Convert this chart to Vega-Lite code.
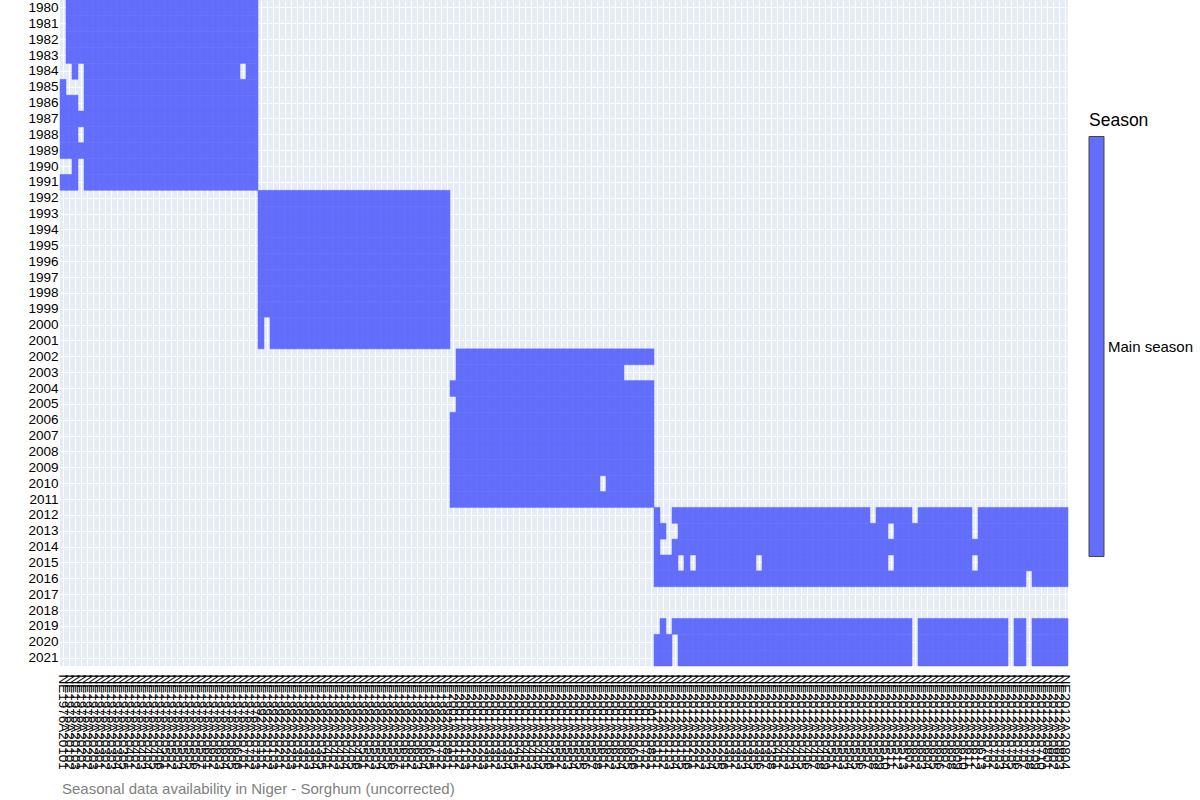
{
"$schema": "https://vega.github.io/schema/vega-lite/v6.json",
"width": 1008, "height": 666,
"autosize": {"type": "none"},
"padding": {"left": 60, "top": 0, "right": 132, "bottom": 134},
"background": "white",
"title": {"text": "Seasonal data availability in Niger - Sorghum (uncorrected)", "orient": "bottom", "anchor": "start", "frame": "group", "offset": 13, "dx": 2, "fontSize": 15, "fontWeight": "normal", "color": "#7f7f7f", "font": "Liberation Sans"},
"data": {"values": [
{"id":"NE1976A20102","year":1980},{"id":"NE1976A20103","year":1980},{"id":"NE1976A20201","year":1980},{"id":"NE1976A20202","year":1980},{"id":"NE1976A20203","year":1980},{"id":"NE1976A20301","year":1980},{"id":"NE1976A20302","year":1980},{"id":"NE1976A20303","year":1980},{"id":"NE1976A20304","year":1980},{"id":"NE1976A20305","year":1980},{"id":"NE1976A20401","year":1980},{"id":"NE1976A20402","year":1980},{"id":"NE1976A20403","year":1980},{"id":"NE1976A20404","year":1980},{"id":"NE1976A20405","year":1980},{"id":"NE1976A20406","year":1980},{"id":"NE1976A20501","year":1980},{"id":"NE1976A20502","year":1980},{"id":"NE1976A20503","year":1980},{"id":"NE1976A20504","year":1980},{"id":"NE1976A20505","year":1980},{"id":"NE1976A20506","year":1980},{"id":"NE1976A20507","year":1980},{"id":"NE1976A20601","year":1980},{"id":"NE1976A20602","year":1980},{"id":"NE1976A20603","year":1980},{"id":"NE1976A20604","year":1980},{"id":"NE1976A20605","year":1980},{"id":"NE1976A20606","year":1980},{"id":"NE1976A20701","year":1980},{"id":"NE1976A20702","year":1980},{"id":"NE1976A20703","year":1980},
{"id":"NE1976A20102","year":1981},{"id":"NE1976A20103","year":1981},{"id":"NE1976A20201","year":1981},{"id":"NE1976A20202","year":1981},{"id":"NE1976A20203","year":1981},{"id":"NE1976A20301","year":1981},{"id":"NE1976A20302","year":1981},{"id":"NE1976A20303","year":1981},{"id":"NE1976A20304","year":1981},{"id":"NE1976A20305","year":1981},{"id":"NE1976A20401","year":1981},{"id":"NE1976A20402","year":1981},{"id":"NE1976A20403","year":1981},{"id":"NE1976A20404","year":1981},{"id":"NE1976A20405","year":1981},{"id":"NE1976A20406","year":1981},{"id":"NE1976A20501","year":1981},{"id":"NE1976A20502","year":1981},{"id":"NE1976A20503","year":1981},{"id":"NE1976A20504","year":1981},{"id":"NE1976A20505","year":1981},{"id":"NE1976A20506","year":1981},{"id":"NE1976A20507","year":1981},{"id":"NE1976A20601","year":1981},{"id":"NE1976A20602","year":1981},{"id":"NE1976A20603","year":1981},{"id":"NE1976A20604","year":1981},{"id":"NE1976A20605","year":1981},{"id":"NE1976A20606","year":1981},{"id":"NE1976A20701","year":1981},{"id":"NE1976A20702","year":1981},{"id":"NE1976A20703","year":1981},
{"id":"NE1976A20102","year":1982},{"id":"NE1976A20103","year":1982},{"id":"NE1976A20201","year":1982},{"id":"NE1976A20202","year":1982},{"id":"NE1976A20203","year":1982},{"id":"NE1976A20301","year":1982},{"id":"NE1976A20302","year":1982},{"id":"NE1976A20303","year":1982},{"id":"NE1976A20304","year":1982},{"id":"NE1976A20305","year":1982},{"id":"NE1976A20401","year":1982},{"id":"NE1976A20402","year":1982},{"id":"NE1976A20403","year":1982},{"id":"NE1976A20404","year":1982},{"id":"NE1976A20405","year":1982},{"id":"NE1976A20406","year":1982},{"id":"NE1976A20501","year":1982},{"id":"NE1976A20502","year":1982},{"id":"NE1976A20503","year":1982},{"id":"NE1976A20504","year":1982},{"id":"NE1976A20505","year":1982},{"id":"NE1976A20506","year":1982},{"id":"NE1976A20507","year":1982},{"id":"NE1976A20601","year":1982},{"id":"NE1976A20602","year":1982},{"id":"NE1976A20603","year":1982},{"id":"NE1976A20604","year":1982},{"id":"NE1976A20605","year":1982},{"id":"NE1976A20606","year":1982},{"id":"NE1976A20701","year":1982},{"id":"NE1976A20702","year":1982},{"id":"NE1976A20703","year":1982},
{"id":"NE1976A20102","year":1983},{"id":"NE1976A20103","year":1983},{"id":"NE1976A20201","year":1983},{"id":"NE1976A20202","year":1983},{"id":"NE1976A20203","year":1983},{"id":"NE1976A20301","year":1983},{"id":"NE1976A20302","year":1983},{"id":"NE1976A20303","year":1983},{"id":"NE1976A20304","year":1983},{"id":"NE1976A20305","year":1983},{"id":"NE1976A20401","year":1983},{"id":"NE1976A20402","year":1983},{"id":"NE1976A20403","year":1983},{"id":"NE1976A20404","year":1983},{"id":"NE1976A20405","year":1983},{"id":"NE1976A20406","year":1983},{"id":"NE1976A20501","year":1983},{"id":"NE1976A20502","year":1983},{"id":"NE1976A20503","year":1983},{"id":"NE1976A20504","year":1983},{"id":"NE1976A20505","year":1983},{"id":"NE1976A20506","year":1983},{"id":"NE1976A20507","year":1983},{"id":"NE1976A20601","year":1983},{"id":"NE1976A20602","year":1983},{"id":"NE1976A20603","year":1983},{"id":"NE1976A20604","year":1983},{"id":"NE1976A20605","year":1983},{"id":"NE1976A20606","year":1983},{"id":"NE1976A20701","year":1983},{"id":"NE1976A20702","year":1983},{"id":"NE1976A20703","year":1983},
{"id":"NE1976A20103","year":1984},{"id":"NE1976A20202","year":1984},{"id":"NE1976A20203","year":1984},{"id":"NE1976A20301","year":1984},{"id":"NE1976A20302","year":1984},{"id":"NE1976A20303","year":1984},{"id":"NE1976A20304","year":1984},{"id":"NE1976A20305","year":1984},{"id":"NE1976A20401","year":1984},{"id":"NE1976A20402","year":1984},{"id":"NE1976A20403","year":1984},{"id":"NE1976A20404","year":1984},{"id":"NE1976A20405","year":1984},{"id":"NE1976A20406","year":1984},{"id":"NE1976A20501","year":1984},{"id":"NE1976A20502","year":1984},{"id":"NE1976A20503","year":1984},{"id":"NE1976A20504","year":1984},{"id":"NE1976A20505","year":1984},{"id":"NE1976A20506","year":1984},{"id":"NE1976A20507","year":1984},{"id":"NE1976A20601","year":1984},{"id":"NE1976A20602","year":1984},{"id":"NE1976A20603","year":1984},{"id":"NE1976A20604","year":1984},{"id":"NE1976A20605","year":1984},{"id":"NE1976A20606","year":1984},{"id":"NE1976A20702","year":1984},{"id":"NE1976A20703","year":1984},
{"id":"NE1976A20101","year":1985},{"id":"NE1976A20202","year":1985},{"id":"NE1976A20203","year":1985},{"id":"NE1976A20301","year":1985},{"id":"NE1976A20302","year":1985},{"id":"NE1976A20303","year":1985},{"id":"NE1976A20304","year":1985},{"id":"NE1976A20305","year":1985},{"id":"NE1976A20401","year":1985},{"id":"NE1976A20402","year":1985},{"id":"NE1976A20403","year":1985},{"id":"NE1976A20404","year":1985},{"id":"NE1976A20405","year":1985},{"id":"NE1976A20406","year":1985},{"id":"NE1976A20501","year":1985},{"id":"NE1976A20502","year":1985},{"id":"NE1976A20503","year":1985},{"id":"NE1976A20504","year":1985},{"id":"NE1976A20505","year":1985},{"id":"NE1976A20506","year":1985},{"id":"NE1976A20507","year":1985},{"id":"NE1976A20601","year":1985},{"id":"NE1976A20602","year":1985},{"id":"NE1976A20603","year":1985},{"id":"NE1976A20604","year":1985},{"id":"NE1976A20605","year":1985},{"id":"NE1976A20606","year":1985},{"id":"NE1976A20701","year":1985},{"id":"NE1976A20702","year":1985},{"id":"NE1976A20703","year":1985},
{"id":"NE1976A20101","year":1986},{"id":"NE1976A20102","year":1986},{"id":"NE1976A20103","year":1986},{"id":"NE1976A20202","year":1986},{"id":"NE1976A20203","year":1986},{"id":"NE1976A20301","year":1986},{"id":"NE1976A20302","year":1986},{"id":"NE1976A20303","year":1986},{"id":"NE1976A20304","year":1986},{"id":"NE1976A20305","year":1986},{"id":"NE1976A20401","year":1986},{"id":"NE1976A20402","year":1986},{"id":"NE1976A20403","year":1986},{"id":"NE1976A20404","year":1986},{"id":"NE1976A20405","year":1986},{"id":"NE1976A20406","year":1986},{"id":"NE1976A20501","year":1986},{"id":"NE1976A20502","year":1986},{"id":"NE1976A20503","year":1986},{"id":"NE1976A20504","year":1986},{"id":"NE1976A20505","year":1986},{"id":"NE1976A20506","year":1986},{"id":"NE1976A20507","year":1986},{"id":"NE1976A20601","year":1986},{"id":"NE1976A20602","year":1986},{"id":"NE1976A20603","year":1986},{"id":"NE1976A20604","year":1986},{"id":"NE1976A20605","year":1986},{"id":"NE1976A20606","year":1986},{"id":"NE1976A20701","year":1986},{"id":"NE1976A20702","year":1986},{"id":"NE1976A20703","year":1986},
{"id":"NE1976A20101","year":1987},{"id":"NE1976A20102","year":1987},{"id":"NE1976A20103","year":1987},{"id":"NE1976A20201","year":1987},{"id":"NE1976A20202","year":1987},{"id":"NE1976A20203","year":1987},{"id":"NE1976A20301","year":1987},{"id":"NE1976A20302","year":1987},{"id":"NE1976A20303","year":1987},{"id":"NE1976A20304","year":1987},{"id":"NE1976A20305","year":1987},{"id":"NE1976A20401","year":1987},{"id":"NE1976A20402","year":1987},{"id":"NE1976A20403","year":1987},{"id":"NE1976A20404","year":1987},{"id":"NE1976A20405","year":1987},{"id":"NE1976A20406","year":1987},{"id":"NE1976A20501","year":1987},{"id":"NE1976A20502","year":1987},{"id":"NE1976A20503","year":1987},{"id":"NE1976A20504","year":1987},{"id":"NE1976A20505","year":1987},{"id":"NE1976A20506","year":1987},{"id":"NE1976A20507","year":1987},{"id":"NE1976A20601","year":1987},{"id":"NE1976A20602","year":1987},{"id":"NE1976A20603","year":1987},{"id":"NE1976A20604","year":1987},{"id":"NE1976A20605","year":1987},{"id":"NE1976A20606","year":1987},{"id":"NE1976A20701","year":1987},{"id":"NE1976A20702","year":1987},{"id":"NE1976A20703","year":1987},
{"id":"NE1976A20101","year":1988},{"id":"NE1976A20102","year":1988},{"id":"NE1976A20103","year":1988},{"id":"NE1976A20202","year":1988},{"id":"NE1976A20203","year":1988},{"id":"NE1976A20301","year":1988},{"id":"NE1976A20302","year":1988},{"id":"NE1976A20303","year":1988},{"id":"NE1976A20304","year":1988},{"id":"NE1976A20305","year":1988},{"id":"NE1976A20401","year":1988},{"id":"NE1976A20402","year":1988},{"id":"NE1976A20403","year":1988},{"id":"NE1976A20404","year":1988},{"id":"NE1976A20405","year":1988},{"id":"NE1976A20406","year":1988},{"id":"NE1976A20501","year":1988},{"id":"NE1976A20502","year":1988},{"id":"NE1976A20503","year":1988},{"id":"NE1976A20504","year":1988},{"id":"NE1976A20505","year":1988},{"id":"NE1976A20506","year":1988},{"id":"NE1976A20507","year":1988},{"id":"NE1976A20601","year":1988},{"id":"NE1976A20602","year":1988},{"id":"NE1976A20603","year":1988},{"id":"NE1976A20604","year":1988},{"id":"NE1976A20605","year":1988},{"id":"NE1976A20606","year":1988},{"id":"NE1976A20701","year":1988},{"id":"NE1976A20702","year":1988},{"id":"NE1976A20703","year":1988},
{"id":"NE1976A20101","year":1989},{"id":"NE1976A20102","year":1989},{"id":"NE1976A20103","year":1989},{"id":"NE1976A20201","year":1989},{"id":"NE1976A20202","year":1989},{"id":"NE1976A20203","year":1989},{"id":"NE1976A20301","year":1989},{"id":"NE1976A20302","year":1989},{"id":"NE1976A20303","year":1989},{"id":"NE1976A20304","year":1989},{"id":"NE1976A20305","year":1989},{"id":"NE1976A20401","year":1989},{"id":"NE1976A20402","year":1989},{"id":"NE1976A20403","year":1989},{"id":"NE1976A20404","year":1989},{"id":"NE1976A20405","year":1989},{"id":"NE1976A20406","year":1989},{"id":"NE1976A20501","year":1989},{"id":"NE1976A20502","year":1989},{"id":"NE1976A20503","year":1989},{"id":"NE1976A20504","year":1989},{"id":"NE1976A20505","year":1989},{"id":"NE1976A20506","year":1989},{"id":"NE1976A20507","year":1989},{"id":"NE1976A20601","year":1989},{"id":"NE1976A20602","year":1989},{"id":"NE1976A20603","year":1989},{"id":"NE1976A20604","year":1989},{"id":"NE1976A20605","year":1989},{"id":"NE1976A20606","year":1989},{"id":"NE1976A20701","year":1989},{"id":"NE1976A20702","year":1989},{"id":"NE1976A20703","year":1989},
{"id":"NE1976A20103","year":1990},{"id":"NE1976A20202","year":1990},{"id":"NE1976A20203","year":1990},{"id":"NE1976A20301","year":1990},{"id":"NE1976A20302","year":1990},{"id":"NE1976A20303","year":1990},{"id":"NE1976A20304","year":1990},{"id":"NE1976A20305","year":1990},{"id":"NE1976A20401","year":1990},{"id":"NE1976A20402","year":1990},{"id":"NE1976A20403","year":1990},{"id":"NE1976A20404","year":1990},{"id":"NE1976A20405","year":1990},{"id":"NE1976A20406","year":1990},{"id":"NE1976A20501","year":1990},{"id":"NE1976A20502","year":1990},{"id":"NE1976A20503","year":1990},{"id":"NE1976A20504","year":1990},{"id":"NE1976A20505","year":1990},{"id":"NE1976A20506","year":1990},{"id":"NE1976A20507","year":1990},{"id":"NE1976A20601","year":1990},{"id":"NE1976A20602","year":1990},{"id":"NE1976A20603","year":1990},{"id":"NE1976A20604","year":1990},{"id":"NE1976A20605","year":1990},{"id":"NE1976A20606","year":1990},{"id":"NE1976A20701","year":1990},{"id":"NE1976A20702","year":1990},{"id":"NE1976A20703","year":1990},
{"id":"NE1976A20101","year":1991},{"id":"NE1976A20102","year":1991},{"id":"NE1976A20103","year":1991},{"id":"NE1976A20202","year":1991},{"id":"NE1976A20203","year":1991},{"id":"NE1976A20301","year":1991},{"id":"NE1976A20302","year":1991},{"id":"NE1976A20303","year":1991},{"id":"NE1976A20304","year":1991},{"id":"NE1976A20305","year":1991},{"id":"NE1976A20401","year":1991},{"id":"NE1976A20402","year":1991},{"id":"NE1976A20403","year":1991},{"id":"NE1976A20404","year":1991},{"id":"NE1976A20405","year":1991},{"id":"NE1976A20406","year":1991},{"id":"NE1976A20501","year":1991},{"id":"NE1976A20502","year":1991},{"id":"NE1976A20503","year":1991},{"id":"NE1976A20504","year":1991},{"id":"NE1976A20505","year":1991},{"id":"NE1976A20506","year":1991},{"id":"NE1976A20507","year":1991},{"id":"NE1976A20601","year":1991},{"id":"NE1976A20602","year":1991},{"id":"NE1976A20603","year":1991},{"id":"NE1976A20604","year":1991},{"id":"NE1976A20605","year":1991},{"id":"NE1976A20606","year":1991},{"id":"NE1976A20701","year":1991},{"id":"NE1976A20702","year":1991},{"id":"NE1976A20703","year":1991},
{"id":"NE1992A20101","year":1992},{"id":"NE1992A20102","year":1992},{"id":"NE1992A20103","year":1992},{"id":"NE1992A20201","year":1992},{"id":"NE1992A20202","year":1992},{"id":"NE1992A20203","year":1992},{"id":"NE1992A20301","year":1992},{"id":"NE1992A20302","year":1992},{"id":"NE1992A20303","year":1992},{"id":"NE1992A20304","year":1992},{"id":"NE1992A20305","year":1992},{"id":"NE1992A20401","year":1992},{"id":"NE1992A20402","year":1992},{"id":"NE1992A20403","year":1992},{"id":"NE1992A20404","year":1992},{"id":"NE1992A20405","year":1992},{"id":"NE1992A20406","year":1992},{"id":"NE1992A20501","year":1992},{"id":"NE1992A20502","year":1992},{"id":"NE1992A20503","year":1992},{"id":"NE1992A20504","year":1992},{"id":"NE1992A20505","year":1992},{"id":"NE1992A20506","year":1992},{"id":"NE1992A20507","year":1992},{"id":"NE1992A20601","year":1992},{"id":"NE1992A20602","year":1992},{"id":"NE1992A20603","year":1992},{"id":"NE1992A20604","year":1992},{"id":"NE1992A20605","year":1992},{"id":"NE1992A20701","year":1992},{"id":"NE1992A20702","year":1992},{"id":"NE1992A20801","year":1992},
{"id":"NE1992A20101","year":1993},{"id":"NE1992A20102","year":1993},{"id":"NE1992A20103","year":1993},{"id":"NE1992A20201","year":1993},{"id":"NE1992A20202","year":1993},{"id":"NE1992A20203","year":1993},{"id":"NE1992A20301","year":1993},{"id":"NE1992A20302","year":1993},{"id":"NE1992A20303","year":1993},{"id":"NE1992A20304","year":1993},{"id":"NE1992A20305","year":1993},{"id":"NE1992A20401","year":1993},{"id":"NE1992A20402","year":1993},{"id":"NE1992A20403","year":1993},{"id":"NE1992A20404","year":1993},{"id":"NE1992A20405","year":1993},{"id":"NE1992A20406","year":1993},{"id":"NE1992A20501","year":1993},{"id":"NE1992A20502","year":1993},{"id":"NE1992A20503","year":1993},{"id":"NE1992A20504","year":1993},{"id":"NE1992A20505","year":1993},{"id":"NE1992A20506","year":1993},{"id":"NE1992A20507","year":1993},{"id":"NE1992A20601","year":1993},{"id":"NE1992A20602","year":1993},{"id":"NE1992A20603","year":1993},{"id":"NE1992A20604","year":1993},{"id":"NE1992A20605","year":1993},{"id":"NE1992A20701","year":1993},{"id":"NE1992A20702","year":1993},{"id":"NE1992A20801","year":1993},
{"id":"NE1992A20101","year":1994},{"id":"NE1992A20102","year":1994},{"id":"NE1992A20103","year":1994},{"id":"NE1992A20201","year":1994},{"id":"NE1992A20202","year":1994},{"id":"NE1992A20203","year":1994},{"id":"NE1992A20301","year":1994},{"id":"NE1992A20302","year":1994},{"id":"NE1992A20303","year":1994},{"id":"NE1992A20304","year":1994},{"id":"NE1992A20305","year":1994},{"id":"NE1992A20401","year":1994},{"id":"NE1992A20402","year":1994},{"id":"NE1992A20403","year":1994},{"id":"NE1992A20404","year":1994},{"id":"NE1992A20405","year":1994},{"id":"NE1992A20406","year":1994},{"id":"NE1992A20501","year":1994},{"id":"NE1992A20502","year":1994},{"id":"NE1992A20503","year":1994},{"id":"NE1992A20504","year":1994},{"id":"NE1992A20505","year":1994},{"id":"NE1992A20506","year":1994},{"id":"NE1992A20507","year":1994},{"id":"NE1992A20601","year":1994},{"id":"NE1992A20602","year":1994},{"id":"NE1992A20603","year":1994},{"id":"NE1992A20604","year":1994},{"id":"NE1992A20605","year":1994},{"id":"NE1992A20701","year":1994},{"id":"NE1992A20702","year":1994},{"id":"NE1992A20801","year":1994},
{"id":"NE1992A20101","year":1995},{"id":"NE1992A20102","year":1995},{"id":"NE1992A20103","year":1995},{"id":"NE1992A20201","year":1995},{"id":"NE1992A20202","year":1995},{"id":"NE1992A20203","year":1995},{"id":"NE1992A20301","year":1995},{"id":"NE1992A20302","year":1995},{"id":"NE1992A20303","year":1995},{"id":"NE1992A20304","year":1995},{"id":"NE1992A20305","year":1995},{"id":"NE1992A20401","year":1995},{"id":"NE1992A20402","year":1995},{"id":"NE1992A20403","year":1995},{"id":"NE1992A20404","year":1995},{"id":"NE1992A20405","year":1995},{"id":"NE1992A20406","year":1995},{"id":"NE1992A20501","year":1995},{"id":"NE1992A20502","year":1995},{"id":"NE1992A20503","year":1995},{"id":"NE1992A20504","year":1995},{"id":"NE1992A20505","year":1995},{"id":"NE1992A20506","year":1995},{"id":"NE1992A20507","year":1995},{"id":"NE1992A20601","year":1995},{"id":"NE1992A20602","year":1995},{"id":"NE1992A20603","year":1995},{"id":"NE1992A20604","year":1995},{"id":"NE1992A20605","year":1995},{"id":"NE1992A20701","year":1995},{"id":"NE1992A20702","year":1995},{"id":"NE1992A20801","year":1995},
{"id":"NE1992A20101","year":1996},{"id":"NE1992A20102","year":1996},{"id":"NE1992A20103","year":1996},{"id":"NE1992A20201","year":1996},{"id":"NE1992A20202","year":1996},{"id":"NE1992A20203","year":1996},{"id":"NE1992A20301","year":1996},{"id":"NE1992A20302","year":1996},{"id":"NE1992A20303","year":1996},{"id":"NE1992A20304","year":1996},{"id":"NE1992A20305","year":1996},{"id":"NE1992A20401","year":1996},{"id":"NE1992A20402","year":1996},{"id":"NE1992A20403","year":1996},{"id":"NE1992A20404","year":1996},{"id":"NE1992A20405","year":1996},{"id":"NE1992A20406","year":1996},{"id":"NE1992A20501","year":1996},{"id":"NE1992A20502","year":1996},{"id":"NE1992A20503","year":1996},{"id":"NE1992A20504","year":1996},{"id":"NE1992A20505","year":1996},{"id":"NE1992A20506","year":1996},{"id":"NE1992A20507","year":1996},{"id":"NE1992A20601","year":1996},{"id":"NE1992A20602","year":1996},{"id":"NE1992A20603","year":1996},{"id":"NE1992A20604","year":1996},{"id":"NE1992A20605","year":1996},{"id":"NE1992A20701","year":1996},{"id":"NE1992A20702","year":1996},{"id":"NE1992A20801","year":1996},
{"id":"NE1992A20101","year":1997},{"id":"NE1992A20102","year":1997},{"id":"NE1992A20103","year":1997},{"id":"NE1992A20201","year":1997},{"id":"NE1992A20202","year":1997},{"id":"NE1992A20203","year":1997},{"id":"NE1992A20301","year":1997},{"id":"NE1992A20302","year":1997},{"id":"NE1992A20303","year":1997},{"id":"NE1992A20304","year":1997},{"id":"NE1992A20305","year":1997},{"id":"NE1992A20401","year":1997},{"id":"NE1992A20402","year":1997},{"id":"NE1992A20403","year":1997},{"id":"NE1992A20404","year":1997},{"id":"NE1992A20405","year":1997},{"id":"NE1992A20406","year":1997},{"id":"NE1992A20501","year":1997},{"id":"NE1992A20502","year":1997},{"id":"NE1992A20503","year":1997},{"id":"NE1992A20504","year":1997},{"id":"NE1992A20505","year":1997},{"id":"NE1992A20506","year":1997},{"id":"NE1992A20507","year":1997},{"id":"NE1992A20601","year":1997},{"id":"NE1992A20602","year":1997},{"id":"NE1992A20603","year":1997},{"id":"NE1992A20604","year":1997},{"id":"NE1992A20605","year":1997},{"id":"NE1992A20701","year":1997},{"id":"NE1992A20702","year":1997},{"id":"NE1992A20801","year":1997},
{"id":"NE1992A20101","year":1998},{"id":"NE1992A20102","year":1998},{"id":"NE1992A20103","year":1998},{"id":"NE1992A20201","year":1998},{"id":"NE1992A20202","year":1998},{"id":"NE1992A20203","year":1998},{"id":"NE1992A20301","year":1998},{"id":"NE1992A20302","year":1998},{"id":"NE1992A20303","year":1998},{"id":"NE1992A20304","year":1998},{"id":"NE1992A20305","year":1998},{"id":"NE1992A20401","year":1998},{"id":"NE1992A20402","year":1998},{"id":"NE1992A20403","year":1998},{"id":"NE1992A20404","year":1998},{"id":"NE1992A20405","year":1998},{"id":"NE1992A20406","year":1998},{"id":"NE1992A20501","year":1998},{"id":"NE1992A20502","year":1998},{"id":"NE1992A20503","year":1998},{"id":"NE1992A20504","year":1998},{"id":"NE1992A20505","year":1998},{"id":"NE1992A20506","year":1998},{"id":"NE1992A20507","year":1998},{"id":"NE1992A20601","year":1998},{"id":"NE1992A20602","year":1998},{"id":"NE1992A20603","year":1998},{"id":"NE1992A20604","year":1998},{"id":"NE1992A20605","year":1998},{"id":"NE1992A20701","year":1998},{"id":"NE1992A20702","year":1998},{"id":"NE1992A20801","year":1998},
{"id":"NE1992A20101","year":1999},{"id":"NE1992A20102","year":1999},{"id":"NE1992A20103","year":1999},{"id":"NE1992A20201","year":1999},{"id":"NE1992A20202","year":1999},{"id":"NE1992A20203","year":1999},{"id":"NE1992A20301","year":1999},{"id":"NE1992A20302","year":1999},{"id":"NE1992A20303","year":1999},{"id":"NE1992A20304","year":1999},{"id":"NE1992A20305","year":1999},{"id":"NE1992A20401","year":1999},{"id":"NE1992A20402","year":1999},{"id":"NE1992A20403","year":1999},{"id":"NE1992A20404","year":1999},{"id":"NE1992A20405","year":1999},{"id":"NE1992A20406","year":1999},{"id":"NE1992A20501","year":1999},{"id":"NE1992A20502","year":1999},{"id":"NE1992A20503","year":1999},{"id":"NE1992A20504","year":1999},{"id":"NE1992A20505","year":1999},{"id":"NE1992A20506","year":1999},{"id":"NE1992A20507","year":1999},{"id":"NE1992A20601","year":1999},{"id":"NE1992A20602","year":1999},{"id":"NE1992A20603","year":1999},{"id":"NE1992A20604","year":1999},{"id":"NE1992A20605","year":1999},{"id":"NE1992A20701","year":1999},{"id":"NE1992A20702","year":1999},{"id":"NE1992A20801","year":1999},
{"id":"NE1992A20101","year":2000},{"id":"NE1992A20103","year":2000},{"id":"NE1992A20201","year":2000},{"id":"NE1992A20202","year":2000},{"id":"NE1992A20203","year":2000},{"id":"NE1992A20301","year":2000},{"id":"NE1992A20302","year":2000},{"id":"NE1992A20303","year":2000},{"id":"NE1992A20304","year":2000},{"id":"NE1992A20305","year":2000},{"id":"NE1992A20401","year":2000},{"id":"NE1992A20402","year":2000},{"id":"NE1992A20403","year":2000},{"id":"NE1992A20404","year":2000},{"id":"NE1992A20405","year":2000},{"id":"NE1992A20406","year":2000},{"id":"NE1992A20501","year":2000},{"id":"NE1992A20502","year":2000},{"id":"NE1992A20503","year":2000},{"id":"NE1992A20504","year":2000},{"id":"NE1992A20505","year":2000},{"id":"NE1992A20506","year":2000},{"id":"NE1992A20507","year":2000},{"id":"NE1992A20601","year":2000},{"id":"NE1992A20602","year":2000},{"id":"NE1992A20603","year":2000},{"id":"NE1992A20604","year":2000},{"id":"NE1992A20605","year":2000},{"id":"NE1992A20701","year":2000},{"id":"NE1992A20702","year":2000},{"id":"NE1992A20801","year":2000},
{"id":"NE1992A20101","year":2001},{"id":"NE1992A20103","year":2001},{"id":"NE1992A20201","year":2001},{"id":"NE1992A20202","year":2001},{"id":"NE1992A20203","year":2001},{"id":"NE1992A20301","year":2001},{"id":"NE1992A20302","year":2001},{"id":"NE1992A20303","year":2001},{"id":"NE1992A20304","year":2001},{"id":"NE1992A20305","year":2001},{"id":"NE1992A20401","year":2001},{"id":"NE1992A20402","year":2001},{"id":"NE1992A20403","year":2001},{"id":"NE1992A20404","year":2001},{"id":"NE1992A20405","year":2001},{"id":"NE1992A20406","year":2001},{"id":"NE1992A20501","year":2001},{"id":"NE1992A20502","year":2001},{"id":"NE1992A20503","year":2001},{"id":"NE1992A20504","year":2001},{"id":"NE1992A20505","year":2001},{"id":"NE1992A20506","year":2001},{"id":"NE1992A20507","year":2001},{"id":"NE1992A20601","year":2001},{"id":"NE1992A20602","year":2001},{"id":"NE1992A20603","year":2001},{"id":"NE1992A20604","year":2001},{"id":"NE1992A20605","year":2001},{"id":"NE1992A20701","year":2001},{"id":"NE1992A20702","year":2001},{"id":"NE1992A20801","year":2001},
{"id":"NE2001A20102","year":2002},{"id":"NE2001A20103","year":2002},{"id":"NE2001A20201","year":2002},{"id":"NE2001A20202","year":2002},{"id":"NE2001A20203","year":2002},{"id":"NE2001A20301","year":2002},{"id":"NE2001A20302","year":2002},{"id":"NE2001A20303","year":2002},{"id":"NE2001A20304","year":2002},{"id":"NE2001A20305","year":2002},{"id":"NE2001A20401","year":2002},{"id":"NE2001A20402","year":2002},{"id":"NE2001A20403","year":2002},{"id":"NE2001A20404","year":2002},{"id":"NE2001A20405","year":2002},{"id":"NE2001A20406","year":2002},{"id":"NE2001A20501","year":2002},{"id":"NE2001A20502","year":2002},{"id":"NE2001A20503","year":2002},{"id":"NE2001A20504","year":2002},{"id":"NE2001A20505","year":2002},{"id":"NE2001A20506","year":2002},{"id":"NE2001A20507","year":2002},{"id":"NE2001A20508","year":2002},{"id":"NE2001A20601","year":2002},{"id":"NE2001A20602","year":2002},{"id":"NE2001A20603","year":2002},{"id":"NE2001A20604","year":2002},{"id":"NE2001A20605","year":2002},{"id":"NE2001A20606","year":2002},{"id":"NE2001A20701","year":2002},{"id":"NE2001A20702","year":2002},{"id":"NE2001A20801","year":2002},
{"id":"NE2001A20102","year":2003},{"id":"NE2001A20103","year":2003},{"id":"NE2001A20201","year":2003},{"id":"NE2001A20202","year":2003},{"id":"NE2001A20203","year":2003},{"id":"NE2001A20301","year":2003},{"id":"NE2001A20302","year":2003},{"id":"NE2001A20303","year":2003},{"id":"NE2001A20304","year":2003},{"id":"NE2001A20305","year":2003},{"id":"NE2001A20401","year":2003},{"id":"NE2001A20402","year":2003},{"id":"NE2001A20403","year":2003},{"id":"NE2001A20404","year":2003},{"id":"NE2001A20405","year":2003},{"id":"NE2001A20406","year":2003},{"id":"NE2001A20501","year":2003},{"id":"NE2001A20502","year":2003},{"id":"NE2001A20503","year":2003},{"id":"NE2001A20504","year":2003},{"id":"NE2001A20505","year":2003},{"id":"NE2001A20506","year":2003},{"id":"NE2001A20507","year":2003},{"id":"NE2001A20508","year":2003},{"id":"NE2001A20601","year":2003},{"id":"NE2001A20602","year":2003},{"id":"NE2001A20603","year":2003},{"id":"NE2001A20604","year":2003},
{"id":"NE2001A20101","year":2004},{"id":"NE2001A20102","year":2004},{"id":"NE2001A20103","year":2004},{"id":"NE2001A20201","year":2004},{"id":"NE2001A20202","year":2004},{"id":"NE2001A20203","year":2004},{"id":"NE2001A20301","year":2004},{"id":"NE2001A20302","year":2004},{"id":"NE2001A20303","year":2004},{"id":"NE2001A20304","year":2004},{"id":"NE2001A20305","year":2004},{"id":"NE2001A20401","year":2004},{"id":"NE2001A20402","year":2004},{"id":"NE2001A20403","year":2004},{"id":"NE2001A20404","year":2004},{"id":"NE2001A20405","year":2004},{"id":"NE2001A20406","year":2004},{"id":"NE2001A20501","year":2004},{"id":"NE2001A20502","year":2004},{"id":"NE2001A20503","year":2004},{"id":"NE2001A20504","year":2004},{"id":"NE2001A20505","year":2004},{"id":"NE2001A20506","year":2004},{"id":"NE2001A20507","year":2004},{"id":"NE2001A20508","year":2004},{"id":"NE2001A20601","year":2004},{"id":"NE2001A20602","year":2004},{"id":"NE2001A20603","year":2004},{"id":"NE2001A20604","year":2004},{"id":"NE2001A20605","year":2004},{"id":"NE2001A20606","year":2004},{"id":"NE2001A20701","year":2004},{"id":"NE2001A20702","year":2004},{"id":"NE2001A20801","year":2004},
{"id":"NE2001A20102","year":2005},{"id":"NE2001A20103","year":2005},{"id":"NE2001A20201","year":2005},{"id":"NE2001A20202","year":2005},{"id":"NE2001A20203","year":2005},{"id":"NE2001A20301","year":2005},{"id":"NE2001A20302","year":2005},{"id":"NE2001A20303","year":2005},{"id":"NE2001A20304","year":2005},{"id":"NE2001A20305","year":2005},{"id":"NE2001A20401","year":2005},{"id":"NE2001A20402","year":2005},{"id":"NE2001A20403","year":2005},{"id":"NE2001A20404","year":2005},{"id":"NE2001A20405","year":2005},{"id":"NE2001A20406","year":2005},{"id":"NE2001A20501","year":2005},{"id":"NE2001A20502","year":2005},{"id":"NE2001A20503","year":2005},{"id":"NE2001A20504","year":2005},{"id":"NE2001A20505","year":2005},{"id":"NE2001A20506","year":2005},{"id":"NE2001A20507","year":2005},{"id":"NE2001A20508","year":2005},{"id":"NE2001A20601","year":2005},{"id":"NE2001A20602","year":2005},{"id":"NE2001A20603","year":2005},{"id":"NE2001A20604","year":2005},{"id":"NE2001A20605","year":2005},{"id":"NE2001A20606","year":2005},{"id":"NE2001A20701","year":2005},{"id":"NE2001A20702","year":2005},{"id":"NE2001A20801","year":2005},
{"id":"NE2001A20101","year":2006},{"id":"NE2001A20102","year":2006},{"id":"NE2001A20103","year":2006},{"id":"NE2001A20201","year":2006},{"id":"NE2001A20202","year":2006},{"id":"NE2001A20203","year":2006},{"id":"NE2001A20301","year":2006},{"id":"NE2001A20302","year":2006},{"id":"NE2001A20303","year":2006},{"id":"NE2001A20304","year":2006},{"id":"NE2001A20305","year":2006},{"id":"NE2001A20401","year":2006},{"id":"NE2001A20402","year":2006},{"id":"NE2001A20403","year":2006},{"id":"NE2001A20404","year":2006},{"id":"NE2001A20405","year":2006},{"id":"NE2001A20406","year":2006},{"id":"NE2001A20501","year":2006},{"id":"NE2001A20502","year":2006},{"id":"NE2001A20503","year":2006},{"id":"NE2001A20504","year":2006},{"id":"NE2001A20505","year":2006},{"id":"NE2001A20506","year":2006},{"id":"NE2001A20507","year":2006},{"id":"NE2001A20508","year":2006},{"id":"NE2001A20601","year":2006},{"id":"NE2001A20602","year":2006},{"id":"NE2001A20603","year":2006},{"id":"NE2001A20604","year":2006},{"id":"NE2001A20605","year":2006},{"id":"NE2001A20606","year":2006},{"id":"NE2001A20701","year":2006},{"id":"NE2001A20702","year":2006},{"id":"NE2001A20801","year":2006},
{"id":"NE2001A20101","year":2007},{"id":"NE2001A20102","year":2007},{"id":"NE2001A20103","year":2007},{"id":"NE2001A20201","year":2007},{"id":"NE2001A20202","year":2007},{"id":"NE2001A20203","year":2007},{"id":"NE2001A20301","year":2007},{"id":"NE2001A20302","year":2007},{"id":"NE2001A20303","year":2007},{"id":"NE2001A20304","year":2007},{"id":"NE2001A20305","year":2007},{"id":"NE2001A20401","year":2007},{"id":"NE2001A20402","year":2007},{"id":"NE2001A20403","year":2007},{"id":"NE2001A20404","year":2007},{"id":"NE2001A20405","year":2007},{"id":"NE2001A20406","year":2007},{"id":"NE2001A20501","year":2007},{"id":"NE2001A20502","year":2007},{"id":"NE2001A20503","year":2007},{"id":"NE2001A20504","year":2007},{"id":"NE2001A20505","year":2007},{"id":"NE2001A20506","year":2007},{"id":"NE2001A20507","year":2007},{"id":"NE2001A20508","year":2007},{"id":"NE2001A20601","year":2007},{"id":"NE2001A20602","year":2007},{"id":"NE2001A20603","year":2007},{"id":"NE2001A20604","year":2007},{"id":"NE2001A20605","year":2007},{"id":"NE2001A20606","year":2007},{"id":"NE2001A20701","year":2007},{"id":"NE2001A20702","year":2007},{"id":"NE2001A20801","year":2007},
{"id":"NE2001A20101","year":2008},{"id":"NE2001A20102","year":2008},{"id":"NE2001A20103","year":2008},{"id":"NE2001A20201","year":2008},{"id":"NE2001A20202","year":2008},{"id":"NE2001A20203","year":2008},{"id":"NE2001A20301","year":2008},{"id":"NE2001A20302","year":2008},{"id":"NE2001A20303","year":2008},{"id":"NE2001A20304","year":2008},{"id":"NE2001A20305","year":2008},{"id":"NE2001A20401","year":2008},{"id":"NE2001A20402","year":2008},{"id":"NE2001A20403","year":2008},{"id":"NE2001A20404","year":2008},{"id":"NE2001A20405","year":2008},{"id":"NE2001A20406","year":2008},{"id":"NE2001A20501","year":2008},{"id":"NE2001A20502","year":2008},{"id":"NE2001A20503","year":2008},{"id":"NE2001A20504","year":2008},{"id":"NE2001A20505","year":2008},{"id":"NE2001A20506","year":2008},{"id":"NE2001A20507","year":2008},{"id":"NE2001A20508","year":2008},{"id":"NE2001A20601","year":2008},{"id":"NE2001A20602","year":2008},{"id":"NE2001A20603","year":2008},{"id":"NE2001A20604","year":2008},{"id":"NE2001A20605","year":2008},{"id":"NE2001A20606","year":2008},{"id":"NE2001A20701","year":2008},{"id":"NE2001A20702","year":2008},{"id":"NE2001A20801","year":2008},
{"id":"NE2001A20101","year":2009},{"id":"NE2001A20102","year":2009},{"id":"NE2001A20103","year":2009},{"id":"NE2001A20201","year":2009},{"id":"NE2001A20202","year":2009},{"id":"NE2001A20203","year":2009},{"id":"NE2001A20301","year":2009},{"id":"NE2001A20302","year":2009},{"id":"NE2001A20303","year":2009},{"id":"NE2001A20304","year":2009},{"id":"NE2001A20305","year":2009},{"id":"NE2001A20401","year":2009},{"id":"NE2001A20402","year":2009},{"id":"NE2001A20403","year":2009},{"id":"NE2001A20404","year":2009},{"id":"NE2001A20405","year":2009},{"id":"NE2001A20406","year":2009},{"id":"NE2001A20501","year":2009},{"id":"NE2001A20502","year":2009},{"id":"NE2001A20503","year":2009},{"id":"NE2001A20504","year":2009},{"id":"NE2001A20505","year":2009},{"id":"NE2001A20506","year":2009},{"id":"NE2001A20507","year":2009},{"id":"NE2001A20508","year":2009},{"id":"NE2001A20601","year":2009},{"id":"NE2001A20602","year":2009},{"id":"NE2001A20603","year":2009},{"id":"NE2001A20604","year":2009},{"id":"NE2001A20605","year":2009},{"id":"NE2001A20606","year":2009},{"id":"NE2001A20701","year":2009},{"id":"NE2001A20702","year":2009},{"id":"NE2001A20801","year":2009},
{"id":"NE2001A20101","year":2010},{"id":"NE2001A20102","year":2010},{"id":"NE2001A20103","year":2010},{"id":"NE2001A20201","year":2010},{"id":"NE2001A20202","year":2010},{"id":"NE2001A20203","year":2010},{"id":"NE2001A20301","year":2010},{"id":"NE2001A20302","year":2010},{"id":"NE2001A20303","year":2010},{"id":"NE2001A20304","year":2010},{"id":"NE2001A20305","year":2010},{"id":"NE2001A20401","year":2010},{"id":"NE2001A20402","year":2010},{"id":"NE2001A20403","year":2010},{"id":"NE2001A20404","year":2010},{"id":"NE2001A20405","year":2010},{"id":"NE2001A20406","year":2010},{"id":"NE2001A20501","year":2010},{"id":"NE2001A20502","year":2010},{"id":"NE2001A20503","year":2010},{"id":"NE2001A20504","year":2010},{"id":"NE2001A20505","year":2010},{"id":"NE2001A20506","year":2010},{"id":"NE2001A20507","year":2010},{"id":"NE2001A20508","year":2010},{"id":"NE2001A20602","year":2010},{"id":"NE2001A20603","year":2010},{"id":"NE2001A20604","year":2010},{"id":"NE2001A20605","year":2010},{"id":"NE2001A20606","year":2010},{"id":"NE2001A20701","year":2010},{"id":"NE2001A20702","year":2010},{"id":"NE2001A20801","year":2010},
{"id":"NE2001A20101","year":2011},{"id":"NE2001A20102","year":2011},{"id":"NE2001A20103","year":2011},{"id":"NE2001A20201","year":2011},{"id":"NE2001A20202","year":2011},{"id":"NE2001A20203","year":2011},{"id":"NE2001A20301","year":2011},{"id":"NE2001A20302","year":2011},{"id":"NE2001A20303","year":2011},{"id":"NE2001A20304","year":2011},{"id":"NE2001A20305","year":2011},{"id":"NE2001A20401","year":2011},{"id":"NE2001A20402","year":2011},{"id":"NE2001A20403","year":2011},{"id":"NE2001A20404","year":2011},{"id":"NE2001A20405","year":2011},{"id":"NE2001A20406","year":2011},{"id":"NE2001A20501","year":2011},{"id":"NE2001A20502","year":2011},{"id":"NE2001A20503","year":2011},{"id":"NE2001A20504","year":2011},{"id":"NE2001A20505","year":2011},{"id":"NE2001A20506","year":2011},{"id":"NE2001A20507","year":2011},{"id":"NE2001A20508","year":2011},{"id":"NE2001A20601","year":2011},{"id":"NE2001A20602","year":2011},{"id":"NE2001A20603","year":2011},{"id":"NE2001A20604","year":2011},{"id":"NE2001A20605","year":2011},{"id":"NE2001A20606","year":2011},{"id":"NE2001A20701","year":2011},{"id":"NE2001A20702","year":2011},{"id":"NE2001A20801","year":2011},
{"id":"NE2012A20101","year":2012},{"id":"NE2012A20104","year":2012},{"id":"NE2012A20105","year":2012},{"id":"NE2012A20106","year":2012},{"id":"NE2012A20201","year":2012},{"id":"NE2012A20202","year":2012},{"id":"NE2012A20203","year":2012},{"id":"NE2012A20204","year":2012},{"id":"NE2012A20205","year":2012},{"id":"NE2012A20206","year":2012},{"id":"NE2012A20301","year":2012},{"id":"NE2012A20302","year":2012},{"id":"NE2012A20303","year":2012},{"id":"NE2012A20304","year":2012},{"id":"NE2012A20305","year":2012},{"id":"NE2012A20306","year":2012},{"id":"NE2012A20307","year":2012},{"id":"NE2012A20308","year":2012},{"id":"NE2012A20401","year":2012},{"id":"NE2012A20402","year":2012},{"id":"NE2012A20403","year":2012},{"id":"NE2012A20404","year":2012},{"id":"NE2012A20405","year":2012},{"id":"NE2012A20406","year":2012},{"id":"NE2012A20407","year":2012},{"id":"NE2012A20408","year":2012},{"id":"NE2012A20409","year":2012},{"id":"NE2012A20501","year":2012},{"id":"NE2012A20502","year":2012},{"id":"NE2012A20503","year":2012},{"id":"NE2012A20504","year":2012},{"id":"NE2012A20505","year":2012},{"id":"NE2012A20506","year":2012},{"id":"NE2012A20507","year":2012},{"id":"NE2012A20509","year":2012},{"id":"NE2012A20510","year":2012},{"id":"NE2012A20511","year":2012},{"id":"NE2012A20512","year":2012},{"id":"NE2012A20513","year":2012},{"id":"NE2012A20601","year":2012},{"id":"NE2012A20603","year":2012},{"id":"NE2012A20604","year":2012},{"id":"NE2012A20605","year":2012},{"id":"NE2012A20606","year":2012},{"id":"NE2012A20607","year":2012},{"id":"NE2012A20608","year":2012},{"id":"NE2012A20609","year":2012},{"id":"NE2012A20610","year":2012},{"id":"NE2012A20611","year":2012},{"id":"NE2012A20613","year":2012},{"id":"NE2012A20701","year":2012},{"id":"NE2012A20702","year":2012},{"id":"NE2012A20703","year":2012},{"id":"NE2012A20704","year":2012},{"id":"NE2012A20705","year":2012},{"id":"NE2012A20706","year":2012},{"id":"NE2012A20707","year":2012},{"id":"NE2012A20708","year":2012},{"id":"NE2012A20709","year":2012},{"id":"NE2012A20710","year":2012},{"id":"NE2012A20801","year":2012},{"id":"NE2012A20802","year":2012},{"id":"NE2012A20803","year":2012},{"id":"NE2012A20804","year":2012},
{"id":"NE2012A20101","year":2013},{"id":"NE2012A20102","year":2013},{"id":"NE2012A20105","year":2013},{"id":"NE2012A20106","year":2013},{"id":"NE2012A20201","year":2013},{"id":"NE2012A20202","year":2013},{"id":"NE2012A20203","year":2013},{"id":"NE2012A20204","year":2013},{"id":"NE2012A20205","year":2013},{"id":"NE2012A20206","year":2013},{"id":"NE2012A20301","year":2013},{"id":"NE2012A20302","year":2013},{"id":"NE2012A20303","year":2013},{"id":"NE2012A20304","year":2013},{"id":"NE2012A20305","year":2013},{"id":"NE2012A20306","year":2013},{"id":"NE2012A20307","year":2013},{"id":"NE2012A20308","year":2013},{"id":"NE2012A20401","year":2013},{"id":"NE2012A20402","year":2013},{"id":"NE2012A20403","year":2013},{"id":"NE2012A20404","year":2013},{"id":"NE2012A20405","year":2013},{"id":"NE2012A20406","year":2013},{"id":"NE2012A20407","year":2013},{"id":"NE2012A20408","year":2013},{"id":"NE2012A20409","year":2013},{"id":"NE2012A20501","year":2013},{"id":"NE2012A20502","year":2013},{"id":"NE2012A20503","year":2013},{"id":"NE2012A20504","year":2013},{"id":"NE2012A20505","year":2013},{"id":"NE2012A20506","year":2013},{"id":"NE2012A20507","year":2013},{"id":"NE2012A20508","year":2013},{"id":"NE2012A20509","year":2013},{"id":"NE2012A20510","year":2013},{"id":"NE2012A20512","year":2013},{"id":"NE2012A20513","year":2013},{"id":"NE2012A20601","year":2013},{"id":"NE2012A20602","year":2013},{"id":"NE2012A20603","year":2013},{"id":"NE2012A20604","year":2013},{"id":"NE2012A20605","year":2013},{"id":"NE2012A20606","year":2013},{"id":"NE2012A20607","year":2013},{"id":"NE2012A20608","year":2013},{"id":"NE2012A20609","year":2013},{"id":"NE2012A20610","year":2013},{"id":"NE2012A20611","year":2013},{"id":"NE2012A20613","year":2013},{"id":"NE2012A20701","year":2013},{"id":"NE2012A20702","year":2013},{"id":"NE2012A20703","year":2013},{"id":"NE2012A20704","year":2013},{"id":"NE2012A20705","year":2013},{"id":"NE2012A20706","year":2013},{"id":"NE2012A20707","year":2013},{"id":"NE2012A20708","year":2013},{"id":"NE2012A20709","year":2013},{"id":"NE2012A20710","year":2013},{"id":"NE2012A20801","year":2013},{"id":"NE2012A20802","year":2013},{"id":"NE2012A20803","year":2013},{"id":"NE2012A20804","year":2013},
{"id":"NE2012A20101","year":2014},{"id":"NE2012A20104","year":2014},{"id":"NE2012A20105","year":2014},{"id":"NE2012A20106","year":2014},{"id":"NE2012A20201","year":2014},{"id":"NE2012A20202","year":2014},{"id":"NE2012A20203","year":2014},{"id":"NE2012A20204","year":2014},{"id":"NE2012A20205","year":2014},{"id":"NE2012A20206","year":2014},{"id":"NE2012A20301","year":2014},{"id":"NE2012A20302","year":2014},{"id":"NE2012A20303","year":2014},{"id":"NE2012A20304","year":2014},{"id":"NE2012A20305","year":2014},{"id":"NE2012A20306","year":2014},{"id":"NE2012A20307","year":2014},{"id":"NE2012A20308","year":2014},{"id":"NE2012A20401","year":2014},{"id":"NE2012A20402","year":2014},{"id":"NE2012A20403","year":2014},{"id":"NE2012A20404","year":2014},{"id":"NE2012A20405","year":2014},{"id":"NE2012A20406","year":2014},{"id":"NE2012A20407","year":2014},{"id":"NE2012A20408","year":2014},{"id":"NE2012A20409","year":2014},{"id":"NE2012A20501","year":2014},{"id":"NE2012A20502","year":2014},{"id":"NE2012A20503","year":2014},{"id":"NE2012A20504","year":2014},{"id":"NE2012A20505","year":2014},{"id":"NE2012A20506","year":2014},{"id":"NE2012A20507","year":2014},{"id":"NE2012A20508","year":2014},{"id":"NE2012A20509","year":2014},{"id":"NE2012A20510","year":2014},{"id":"NE2012A20511","year":2014},{"id":"NE2012A20512","year":2014},{"id":"NE2012A20513","year":2014},{"id":"NE2012A20601","year":2014},{"id":"NE2012A20602","year":2014},{"id":"NE2012A20603","year":2014},{"id":"NE2012A20604","year":2014},{"id":"NE2012A20605","year":2014},{"id":"NE2012A20606","year":2014},{"id":"NE2012A20607","year":2014},{"id":"NE2012A20608","year":2014},{"id":"NE2012A20609","year":2014},{"id":"NE2012A20610","year":2014},{"id":"NE2012A20611","year":2014},{"id":"NE2012A20612","year":2014},{"id":"NE2012A20613","year":2014},{"id":"NE2012A20701","year":2014},{"id":"NE2012A20702","year":2014},{"id":"NE2012A20703","year":2014},{"id":"NE2012A20704","year":2014},{"id":"NE2012A20705","year":2014},{"id":"NE2012A20706","year":2014},{"id":"NE2012A20707","year":2014},{"id":"NE2012A20708","year":2014},{"id":"NE2012A20709","year":2014},{"id":"NE2012A20710","year":2014},{"id":"NE2012A20801","year":2014},{"id":"NE2012A20802","year":2014},{"id":"NE2012A20803","year":2014},{"id":"NE2012A20804","year":2014},
{"id":"NE2012A20101","year":2015},{"id":"NE2012A20102","year":2015},{"id":"NE2012A20103","year":2015},{"id":"NE2012A20104","year":2015},{"id":"NE2012A20106","year":2015},{"id":"NE2012A20202","year":2015},{"id":"NE2012A20203","year":2015},{"id":"NE2012A20204","year":2015},{"id":"NE2012A20205","year":2015},{"id":"NE2012A20206","year":2015},{"id":"NE2012A20301","year":2015},{"id":"NE2012A20302","year":2015},{"id":"NE2012A20303","year":2015},{"id":"NE2012A20304","year":2015},{"id":"NE2012A20305","year":2015},{"id":"NE2012A20307","year":2015},{"id":"NE2012A20308","year":2015},{"id":"NE2012A20401","year":2015},{"id":"NE2012A20402","year":2015},{"id":"NE2012A20403","year":2015},{"id":"NE2012A20404","year":2015},{"id":"NE2012A20405","year":2015},{"id":"NE2012A20406","year":2015},{"id":"NE2012A20407","year":2015},{"id":"NE2012A20408","year":2015},{"id":"NE2012A20409","year":2015},{"id":"NE2012A20501","year":2015},{"id":"NE2012A20502","year":2015},{"id":"NE2012A20503","year":2015},{"id":"NE2012A20504","year":2015},{"id":"NE2012A20505","year":2015},{"id":"NE2012A20506","year":2015},{"id":"NE2012A20507","year":2015},{"id":"NE2012A20508","year":2015},{"id":"NE2012A20509","year":2015},{"id":"NE2012A20510","year":2015},{"id":"NE2012A20512","year":2015},{"id":"NE2012A20513","year":2015},{"id":"NE2012A20601","year":2015},{"id":"NE2012A20602","year":2015},{"id":"NE2012A20603","year":2015},{"id":"NE2012A20604","year":2015},{"id":"NE2012A20605","year":2015},{"id":"NE2012A20606","year":2015},{"id":"NE2012A20607","year":2015},{"id":"NE2012A20608","year":2015},{"id":"NE2012A20609","year":2015},{"id":"NE2012A20610","year":2015},{"id":"NE2012A20611","year":2015},{"id":"NE2012A20613","year":2015},{"id":"NE2012A20701","year":2015},{"id":"NE2012A20702","year":2015},{"id":"NE2012A20703","year":2015},{"id":"NE2012A20704","year":2015},{"id":"NE2012A20705","year":2015},{"id":"NE2012A20706","year":2015},{"id":"NE2012A20707","year":2015},{"id":"NE2012A20708","year":2015},{"id":"NE2012A20709","year":2015},{"id":"NE2012A20710","year":2015},{"id":"NE2012A20801","year":2015},{"id":"NE2012A20802","year":2015},{"id":"NE2012A20803","year":2015},{"id":"NE2012A20804","year":2015},
{"id":"NE2012A20101","year":2016},{"id":"NE2012A20102","year":2016},{"id":"NE2012A20103","year":2016},{"id":"NE2012A20104","year":2016},{"id":"NE2012A20105","year":2016},{"id":"NE2012A20106","year":2016},{"id":"NE2012A20201","year":2016},{"id":"NE2012A20202","year":2016},{"id":"NE2012A20203","year":2016},{"id":"NE2012A20204","year":2016},{"id":"NE2012A20205","year":2016},{"id":"NE2012A20206","year":2016},{"id":"NE2012A20301","year":2016},{"id":"NE2012A20302","year":2016},{"id":"NE2012A20303","year":2016},{"id":"NE2012A20304","year":2016},{"id":"NE2012A20305","year":2016},{"id":"NE2012A20306","year":2016},{"id":"NE2012A20307","year":2016},{"id":"NE2012A20308","year":2016},{"id":"NE2012A20401","year":2016},{"id":"NE2012A20402","year":2016},{"id":"NE2012A20403","year":2016},{"id":"NE2012A20404","year":2016},{"id":"NE2012A20405","year":2016},{"id":"NE2012A20406","year":2016},{"id":"NE2012A20407","year":2016},{"id":"NE2012A20408","year":2016},{"id":"NE2012A20409","year":2016},{"id":"NE2012A20501","year":2016},{"id":"NE2012A20502","year":2016},{"id":"NE2012A20503","year":2016},{"id":"NE2012A20504","year":2016},{"id":"NE2012A20505","year":2016},{"id":"NE2012A20506","year":2016},{"id":"NE2012A20507","year":2016},{"id":"NE2012A20508","year":2016},{"id":"NE2012A20509","year":2016},{"id":"NE2012A20510","year":2016},{"id":"NE2012A20511","year":2016},{"id":"NE2012A20512","year":2016},{"id":"NE2012A20513","year":2016},{"id":"NE2012A20601","year":2016},{"id":"NE2012A20602","year":2016},{"id":"NE2012A20603","year":2016},{"id":"NE2012A20604","year":2016},{"id":"NE2012A20605","year":2016},{"id":"NE2012A20606","year":2016},{"id":"NE2012A20607","year":2016},{"id":"NE2012A20608","year":2016},{"id":"NE2012A20609","year":2016},{"id":"NE2012A20610","year":2016},{"id":"NE2012A20611","year":2016},{"id":"NE2012A20612","year":2016},{"id":"NE2012A20613","year":2016},{"id":"NE2012A20701","year":2016},{"id":"NE2012A20702","year":2016},{"id":"NE2012A20703","year":2016},{"id":"NE2012A20704","year":2016},{"id":"NE2012A20705","year":2016},{"id":"NE2012A20706","year":2016},{"id":"NE2012A20707","year":2016},{"id":"NE2012A20709","year":2016},{"id":"NE2012A20710","year":2016},{"id":"NE2012A20801","year":2016},{"id":"NE2012A20802","year":2016},{"id":"NE2012A20803","year":2016},{"id":"NE2012A20804","year":2016},
{"id":"NE2012A20102","year":2019},{"id":"NE2012A20104","year":2019},{"id":"NE2012A20105","year":2019},{"id":"NE2012A20106","year":2019},{"id":"NE2012A20201","year":2019},{"id":"NE2012A20202","year":2019},{"id":"NE2012A20203","year":2019},{"id":"NE2012A20204","year":2019},{"id":"NE2012A20205","year":2019},{"id":"NE2012A20206","year":2019},{"id":"NE2012A20301","year":2019},{"id":"NE2012A20302","year":2019},{"id":"NE2012A20303","year":2019},{"id":"NE2012A20304","year":2019},{"id":"NE2012A20305","year":2019},{"id":"NE2012A20306","year":2019},{"id":"NE2012A20307","year":2019},{"id":"NE2012A20308","year":2019},{"id":"NE2012A20401","year":2019},{"id":"NE2012A20402","year":2019},{"id":"NE2012A20403","year":2019},{"id":"NE2012A20404","year":2019},{"id":"NE2012A20405","year":2019},{"id":"NE2012A20406","year":2019},{"id":"NE2012A20407","year":2019},{"id":"NE2012A20408","year":2019},{"id":"NE2012A20409","year":2019},{"id":"NE2012A20501","year":2019},{"id":"NE2012A20502","year":2019},{"id":"NE2012A20503","year":2019},{"id":"NE2012A20504","year":2019},{"id":"NE2012A20505","year":2019},{"id":"NE2012A20506","year":2019},{"id":"NE2012A20507","year":2019},{"id":"NE2012A20508","year":2019},{"id":"NE2012A20509","year":2019},{"id":"NE2012A20510","year":2019},{"id":"NE2012A20511","year":2019},{"id":"NE2012A20512","year":2019},{"id":"NE2012A20513","year":2019},{"id":"NE2012A20601","year":2019},{"id":"NE2012A20603","year":2019},{"id":"NE2012A20604","year":2019},{"id":"NE2012A20605","year":2019},{"id":"NE2012A20606","year":2019},{"id":"NE2012A20607","year":2019},{"id":"NE2012A20608","year":2019},{"id":"NE2012A20609","year":2019},{"id":"NE2012A20610","year":2019},{"id":"NE2012A20611","year":2019},{"id":"NE2012A20612","year":2019},{"id":"NE2012A20613","year":2019},{"id":"NE2012A20701","year":2019},{"id":"NE2012A20702","year":2019},{"id":"NE2012A20703","year":2019},{"id":"NE2012A20704","year":2019},{"id":"NE2012A20706","year":2019},{"id":"NE2012A20707","year":2019},{"id":"NE2012A20709","year":2019},{"id":"NE2012A20710","year":2019},{"id":"NE2012A20801","year":2019},{"id":"NE2012A20802","year":2019},{"id":"NE2012A20803","year":2019},{"id":"NE2012A20804","year":2019},
{"id":"NE2012A20101","year":2020},{"id":"NE2012A20102","year":2020},{"id":"NE2012A20103","year":2020},{"id":"NE2012A20105","year":2020},{"id":"NE2012A20106","year":2020},{"id":"NE2012A20201","year":2020},{"id":"NE2012A20202","year":2020},{"id":"NE2012A20203","year":2020},{"id":"NE2012A20204","year":2020},{"id":"NE2012A20205","year":2020},{"id":"NE2012A20206","year":2020},{"id":"NE2012A20301","year":2020},{"id":"NE2012A20302","year":2020},{"id":"NE2012A20303","year":2020},{"id":"NE2012A20304","year":2020},{"id":"NE2012A20305","year":2020},{"id":"NE2012A20306","year":2020},{"id":"NE2012A20307","year":2020},{"id":"NE2012A20308","year":2020},{"id":"NE2012A20401","year":2020},{"id":"NE2012A20402","year":2020},{"id":"NE2012A20403","year":2020},{"id":"NE2012A20404","year":2020},{"id":"NE2012A20405","year":2020},{"id":"NE2012A20406","year":2020},{"id":"NE2012A20407","year":2020},{"id":"NE2012A20408","year":2020},{"id":"NE2012A20409","year":2020},{"id":"NE2012A20501","year":2020},{"id":"NE2012A20502","year":2020},{"id":"NE2012A20503","year":2020},{"id":"NE2012A20504","year":2020},{"id":"NE2012A20505","year":2020},{"id":"NE2012A20506","year":2020},{"id":"NE2012A20507","year":2020},{"id":"NE2012A20508","year":2020},{"id":"NE2012A20509","year":2020},{"id":"NE2012A20510","year":2020},{"id":"NE2012A20511","year":2020},{"id":"NE2012A20512","year":2020},{"id":"NE2012A20513","year":2020},{"id":"NE2012A20601","year":2020},{"id":"NE2012A20603","year":2020},{"id":"NE2012A20604","year":2020},{"id":"NE2012A20605","year":2020},{"id":"NE2012A20606","year":2020},{"id":"NE2012A20607","year":2020},{"id":"NE2012A20608","year":2020},{"id":"NE2012A20609","year":2020},{"id":"NE2012A20610","year":2020},{"id":"NE2012A20611","year":2020},{"id":"NE2012A20612","year":2020},{"id":"NE2012A20613","year":2020},{"id":"NE2012A20701","year":2020},{"id":"NE2012A20702","year":2020},{"id":"NE2012A20703","year":2020},{"id":"NE2012A20704","year":2020},{"id":"NE2012A20706","year":2020},{"id":"NE2012A20707","year":2020},{"id":"NE2012A20709","year":2020},{"id":"NE2012A20710","year":2020},{"id":"NE2012A20801","year":2020},{"id":"NE2012A20802","year":2020},{"id":"NE2012A20803","year":2020},{"id":"NE2012A20804","year":2020},
{"id":"NE2012A20101","year":2021},{"id":"NE2012A20102","year":2021},{"id":"NE2012A20103","year":2021},{"id":"NE2012A20105","year":2021},{"id":"NE2012A20106","year":2021},{"id":"NE2012A20201","year":2021},{"id":"NE2012A20202","year":2021},{"id":"NE2012A20203","year":2021},{"id":"NE2012A20204","year":2021},{"id":"NE2012A20205","year":2021},{"id":"NE2012A20206","year":2021},{"id":"NE2012A20301","year":2021},{"id":"NE2012A20302","year":2021},{"id":"NE2012A20303","year":2021},{"id":"NE2012A20304","year":2021},{"id":"NE2012A20305","year":2021},{"id":"NE2012A20306","year":2021},{"id":"NE2012A20307","year":2021},{"id":"NE2012A20308","year":2021},{"id":"NE2012A20401","year":2021},{"id":"NE2012A20402","year":2021},{"id":"NE2012A20403","year":2021},{"id":"NE2012A20404","year":2021},{"id":"NE2012A20405","year":2021},{"id":"NE2012A20406","year":2021},{"id":"NE2012A20407","year":2021},{"id":"NE2012A20408","year":2021},{"id":"NE2012A20409","year":2021},{"id":"NE2012A20501","year":2021},{"id":"NE2012A20502","year":2021},{"id":"NE2012A20503","year":2021},{"id":"NE2012A20504","year":2021},{"id":"NE2012A20505","year":2021},{"id":"NE2012A20506","year":2021},{"id":"NE2012A20507","year":2021},{"id":"NE2012A20508","year":2021},{"id":"NE2012A20509","year":2021},{"id":"NE2012A20510","year":2021},{"id":"NE2012A20511","year":2021},{"id":"NE2012A20512","year":2021},{"id":"NE2012A20513","year":2021},{"id":"NE2012A20601","year":2021},{"id":"NE2012A20603","year":2021},{"id":"NE2012A20604","year":2021},{"id":"NE2012A20605","year":2021},{"id":"NE2012A20606","year":2021},{"id":"NE2012A20607","year":2021},{"id":"NE2012A20608","year":2021},{"id":"NE2012A20609","year":2021},{"id":"NE2012A20610","year":2021},{"id":"NE2012A20611","year":2021},{"id":"NE2012A20612","year":2021},{"id":"NE2012A20613","year":2021},{"id":"NE2012A20701","year":2021},{"id":"NE2012A20702","year":2021},{"id":"NE2012A20703","year":2021},{"id":"NE2012A20704","year":2021},{"id":"NE2012A20706","year":2021},{"id":"NE2012A20707","year":2021},{"id":"NE2012A20709","year":2021},{"id":"NE2012A20710","year":2021},{"id":"NE2012A20801","year":2021},{"id":"NE2012A20802","year":2021},{"id":"NE2012A20803","year":2021},{"id":"NE2012A20804","year":2021}
]},
"mark": {"type": "rect", "stroke": "#636efa", "strokeWidth": 0.5},
"encoding": {
"x": {"field": "id", "type": "nominal", "sort": "ascending", "scale": {"paddingInner": 0, "paddingOuter": 0},
 "axis": {"title": null, "zindex": 0, "labelAngle": 90, "labelFontSize": 13.5, "labelColor": "#000000", "labelFont": "Liberation Sans", "labelPadding": 8, "ticks": false, "tickSize": 0, "domain": false, "grid": true, "gridColor": "#ffffff", "gridWidth": 1, "gridOpacity": 1, "labelOverlap": false, "labelBound": false, "labelLimit": 0}},
"y": {"field": "year", "type": "ordinal", "scale": {"domain": [1980,1981,1982,1983,1984,1985,1986,1987,1988,1989,1990,1991,1992,1993,1994,1995,1996,1997,1998,1999,2000,2001,2002,2003,2004,2005,2006,2007,2008,2009,2010,2011,2012,2013,2014,2015,2016,2017,2018,2019,2020,2021], "paddingInner": 0, "paddingOuter": 0},
 "axis": {"title": null, "zindex": 0, "labelFontSize": 13.5, "labelColor": "#000000", "labelFont": "Liberation Sans", "labelPadding": 2, "ticks": false, "tickSize": 0, "domain": false, "grid": true, "gridColor": "#ffffff", "gridWidth": 1, "gridOpacity": 1, "labelOverlap": false}},
"color": {"datum": 1, "type": "quantitative", "scale": {"domain": [0, 2], "range": ["#636efa", "#636efa"]},
 "legend": {"title": "Season", "orient": "none", "legendX": 1029, "legendY": 112, "direction": "vertical", "gradientLength": 420, "gradientThickness": 15, "values": [1], "labelExpr": "'Main season'", "labelFontSize": 15, "labelColor": "#000000", "labelFont": "Liberation Sans", "labelOffset": 4, "titleFontSize": 17.5, "titleFontWeight": "normal", "titleColor": "#000000", "titleFont": "Liberation Sans", "titlePadding": 7, "gradientStrokeColor": "#444444", "gradientStrokeWidth": 1}}
},
"config": {"view": {"fill": "#E5ECF6", "stroke": null}, "font": "Liberation Sans"}
}
